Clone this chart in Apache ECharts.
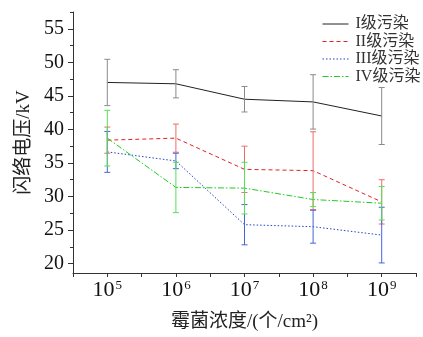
<!DOCTYPE html>
<html><head><meta charset="utf-8">
<script src="https://cdn.jsdelivr.net/npm/echarts@6/dist/echarts.min.js"></script>
<style>html,body{margin:0;padding:0;background:#fff}#c{width:423px;height:337px}</style>
</head><body><div id="c"></div>
<script>
// data
var xExp = [5, 6, 7, 8, 9];                 // log10 of concentration
var seriesNames = ['I级污染', 'II级污染', 'III级污染', 'IV级污染'];
var sI   = [47.0, 46.8, 44.5, 44.1, 42.0];
var eI   = [3.45, 2.1, 1.9, 4.05, 4.25];
var sII  = [38.4, 38.7, 34.05, 33.85, 29.2];
var eII  = [1.95, 2.1, 3.45, 5.8, 3.3];
var sIII = [36.65, 35.3, 25.8, 25.5, 24.25];
var eIII = [3.05, 1.15, 3.0, 2.45, 4.15];
var sIV  = [38.7, 31.35, 31.25, 29.55, 29.0];
var eIV  = [4.15, 3.75, 3.85, 1.05, 2.5];
var yMajor = [20, 25, 30, 35, 40, 45, 50, 55];
var yMinor = [22.5, 27.5, 32.5, 37.5, 42.5, 47.5, 52.5, 57.5];

var FONT = "'Liberation Serif','Times New Roman','Noto Sans CJK SC',serif";
var vals = [sI, sII, sIII, sIV];
var errs = [eI, eII, eIII, eIV];
var lineColors = ['#222222', '#e02222', '#2244c8', '#22cc22'];
var barColors = ['#8a8a8a', '#f06a6a', '#4466dd', '#55e055'];
var dashes = ['solid', [4, 3], [1.5, 2], [6, 2, 1.5, 2]];

var series = [];
vals.forEach(function (v, k) {
  series.push({
    name: seriesNames[k], type: 'line', symbol: 'none',
    data: xExp.map(function (x, i) { return [x, v[i]]; }),
    lineStyle: { color: lineColors[k], width: 1, type: dashes[k] },
    itemStyle: { color: lineColors[k] },
    z: 2
  });
});
vals.forEach(function (v, k) {
  series.push({
    type: 'custom', name: 'err' + k,
    data: xExp.map(function (x, i) { return [x, v[i] - errs[k][i], v[i] + errs[k][i]]; }),
    renderItem: function (params, api) {
      var x = api.value(0);
      var lo = api.coord([x, api.value(1)]);
      var hi = api.coord([x, api.value(2)]);
      var w = 3;
      var st = { stroke: barColors[k], lineWidth: 1 };
      return { type: 'group', children: [
        { type: 'line', shape: { x1: lo[0], y1: lo[1], x2: hi[0], y2: hi[1] }, style: st },
        { type: 'line', shape: { x1: lo[0] - w, y1: lo[1], x2: lo[0] + w, y2: lo[1] }, style: st },
        { type: 'line', shape: { x1: hi[0] - w, y1: hi[1], x2: hi[0] + w, y2: hi[1] }, style: st }
      ]};
    },
    z: 3
  });
});

var chart = echarts.init(document.getElementById('c'), null, { renderer: 'canvas' });
chart.setOption({
  animation: false,
  backgroundColor: '#fff',
  grid: { left: 73, right: 7, top: 12, bottom: 60 },
  legend: {
    data: seriesNames, orient: 'vertical', left: 322, top: 16, padding: 0,
    itemWidth: 26, itemHeight: 14, itemGap: 1.5,
    itemStyle: { opacity: 0 },
    lineStyle: { width: 1 },
    textStyle: { fontFamily: FONT, fontSize: 16, color: '#333', padding: [0, 0, 0, 2] }
  },
  xAxis: {
    type: 'value', min: 4.5, max: 9.5, interval: 0.5,
    name: '霉菌浓度/(个/cm²)', nameLocation: 'middle', nameGap: 40,
    nameTextStyle: { fontFamily: FONT, fontSize: 19, color: '#222' },
    splitLine: { show: false },
    axisLine: { lineStyle: { color: '#333', width: 1 } },
    axisTick: { show: true, length: 4, lineStyle: { color: '#333' } },
    axisLabel: {
      margin: 6, color: '#111',
      formatter: function (v) { return Math.abs(v - Math.round(v)) < 1e-6 ? '{b|10}{s|' + Math.round(v) + '}' : ''; },
      rich: {
        b: { fontFamily: FONT, fontSize: 22, color: '#111' },
        s: { fontFamily: FONT, fontSize: 13, color: '#111', verticalAlign: 'top', padding: [0, 0, 10, 1] }
      }
    }
  },
  yAxis: [{
    type: 'value', min: 18.6, max: 57.5,
    name: '闪络电压/kV', nameLocation: 'middle', nameGap: 37, nameRotate: 90,
    nameTextStyle: { fontFamily: FONT, fontSize: 19, color: '#222' },
    splitLine: { show: false },
    axisLine: { show: true, lineStyle: { color: '#333', width: 1 } },
    axisTick: { show: true, length: 5, customValues: yMajor, lineStyle: { color: '#333' } },
    axisLabel: { customValues: yMajor, margin: 9, fontFamily: FONT, fontSize: 20, color: '#111' }
  }, {
    type: 'value', min: 18.6, max: 57.5, position: 'left',
    splitLine: { show: false },
    axisLine: { show: false },
    axisTick: { show: true, length: 3, customValues: yMinor, lineStyle: { color: '#333' } },
    axisLabel: { show: false }
  }],
  series: series
});
</script></body></html>
